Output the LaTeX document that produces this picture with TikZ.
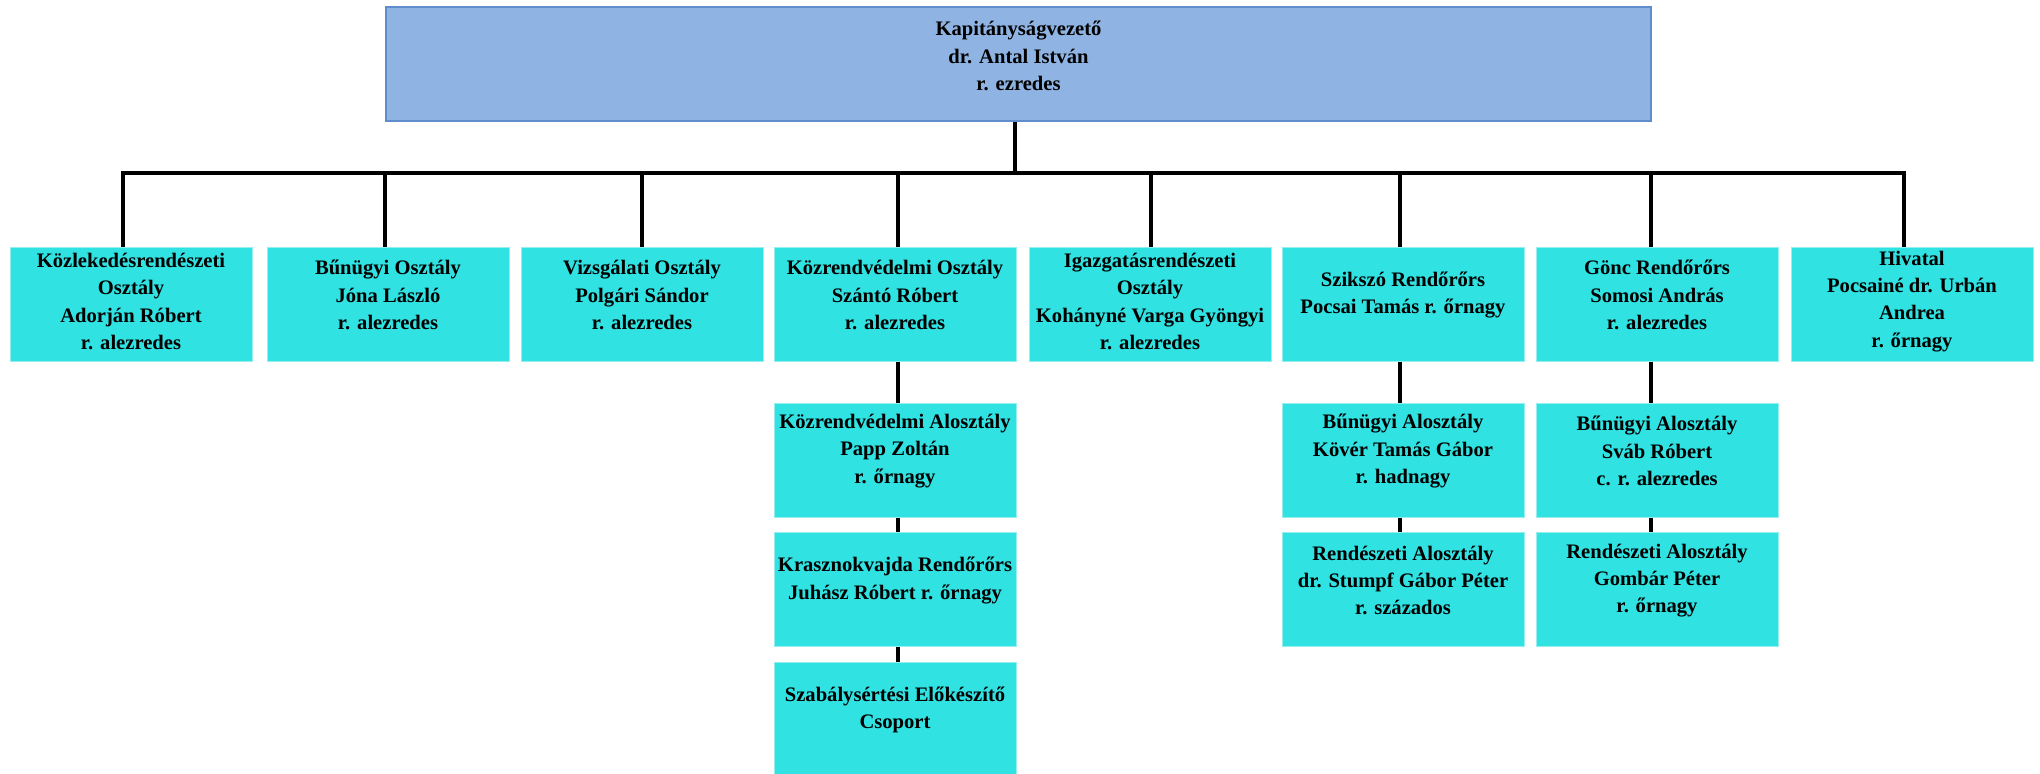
\documentclass[tikz,border=0pt]{standalone}
\usepackage{fontspec}
\setmainfont{Liberation Serif}
\usetikzlibrary{calc}
\definecolor{boxcyan}{RGB}{48,226,226}
\definecolor{boxedge}{RGB}{150,238,238}
\definecolor{topfill}{RGB}{143,180,227}
\definecolor{topedge}{RGB}{95,140,205}
\begin{document}
\begin{tikzpicture}[x=0.5pt,y=-0.5pt,
  unitbox/.style={rectangle, fill=boxcyan, draw=boxedge, line width=0.5pt,
    minimum width=121pt, minimum height=57pt, inner sep=0pt},
  topbox/.style={rectangle, fill=topfill, draw=topedge, line width=0.8pt,
    minimum width=632.5pt, minimum height=57pt, inner sep=0pt},
  lbl/.style={align=center, font=\fontsize{10.3}{13.6}\selectfont\bfseries, inner sep=0pt},
  conn/.style={line width=2pt, black}]
\useasboundingbox (0,0) rectangle (2040,773);

% top
\node[topbox] (top) at (1018.5,64) {};
\node[lbl] (ttop) at ($(top.center)+(0,-8)$) {Kapitányságvezető\\dr. Antal István\\r. ezredes};

% first row
\node[unitbox] (b1) at (131,304) {};
\node[unitbox] (b2) at (388,304) {};
\node[unitbox] (b3) at (642,304) {};
\node[unitbox] (b4) at (895,304) {};
\node[unitbox] (b5) at (1150,304) {};
\node[unitbox] (b6) at (1403,304) {};
\node[unitbox] (b7) at (1657,304) {};
\node[unitbox] (b8) at (1912,304) {};

\node[lbl] (t1) at ($(b1.center)+(0,-2.5)$) {Közlekedésrendészeti\\Osztály\\Adorján Róbert\\r. alezredes};
\node[lbl] (t2) at ($(b2.center)+(0,-9)$) {Bűnügyi Osztály\\Jóna László\\r. alezredes};
\node[lbl] (t3) at ($(b3.center)+(0,-9)$) {Vizsgálati Osztály\\Polgári Sándor\\r. alezredes};
\node[lbl] (t4) at ($(b4.center)+(0,-9)$) {Közrendvédelmi Osztály\\Szántó Róbert\\r. alezredes};
\node[lbl] (t5) at ($(b5.center)+(0,-2.5)$) {Igazgatásrendészeti\\Osztály\\Kohányné Varga Gyöngyi\\r. alezredes};
\node[lbl] (t6) at ($(b6.center)+(0,-9)$) {Szikszó Rendőrőrs\\Pocsai Tamás r. őrnagy};
\node[lbl] (t7) at ($(b7.center)+(0,-9)$) {Gönc Rendőrőrs\\Somosi András\\r. alezredes};
\node[lbl] (t8) at ($(b8.center)+(0,-2.5)$) {Hivatal\\Pocsainé dr. Urbán\\Andrea\\r. őrnagy};

% sub boxes
\node[unitbox] (s41) at (895,460) {};
\node[unitbox] (s42) at (895,589.5) {};
\node[unitbox] (s43) at (895,719.5) {};
\node[unitbox] (s61) at (1403,460) {};
\node[unitbox] (s62) at (1403,589.5) {};
\node[unitbox] (s71) at (1657,460) {};
\node[unitbox] (s72) at (1657,589.5) {};

\node[lbl] (u41) at ($(s41.center)+(0,-9)$) {Közrendvédelmi Alosztály\\Papp Zoltán\\r. őrnagy};
\node[lbl] (u42) at ($(s42.center)+(0,-9)$) {Krasznokvajda Rendőrőrs\\Juhász Róbert r. őrnagy};
\node[lbl] (u43) at ($(s43.center)+(0,-9.5)$) {Szabálysértési Előkészítő\\Csoport};
\node[lbl] (u61) at ($(s61.center)+(0,-9)$) {Bűnügyi Alosztály\\Kövér Tamás Gábor\\r. hadnagy};
\node[lbl] (u62) at ($(s62.center)+(0,-9)$) {Rendészeti Alosztály\\dr. Stumpf Gábor Péter\\r. százados};
\node[lbl] (u71) at ($(s71.center)+(0,-9)$) {Bűnügyi Alosztály\\Sváb Róbert\\c. r. alezredes};
\node[lbl] (u72) at ($(s72.center)+(0,-9)$) {Rendészeti Alosztály\\Gombár Péter\\r. őrnagy};

% bus coordinates
\coordinate (d0) at (1015,173);
\coordinate (d1) at (123,173);
\coordinate (d2) at (385,173);
\coordinate (d3) at (642,173);
\coordinate (d4) at (898,173);
\coordinate (d5) at (1151,173);
\coordinate (d6) at (1400,173);
\coordinate (d7) at (1651,173);
\coordinate (d8) at (1904,173);

% connectors
\draw[conn] (top.south -| d0) -- (d0);
\draw[conn] (d1 |- b1.north) -- (d1) -- (d8) -- (d8 |- b8.north);
\foreach \i in {2,...,7}{
  \draw[conn] (d\i) -- (d\i |- b\i.north);
}
\draw[conn] (d4 |- b4.south) -- (d4 |- s41.north);
\draw[conn] (d4 |- s41.south) -- (d4 |- s42.north);
\draw[conn] (d4 |- s42.south) -- (d4 |- s43.north);
\draw[conn] (d6 |- b6.south) -- (d6 |- s61.north);
\draw[conn] (d6 |- s61.south) -- (d6 |- s62.north);
\draw[conn] (d7 |- b7.south) -- (d7 |- s71.north);
\draw[conn] (d7 |- s71.south) -- (d7 |- s72.north);
\end{tikzpicture}
\end{document}
